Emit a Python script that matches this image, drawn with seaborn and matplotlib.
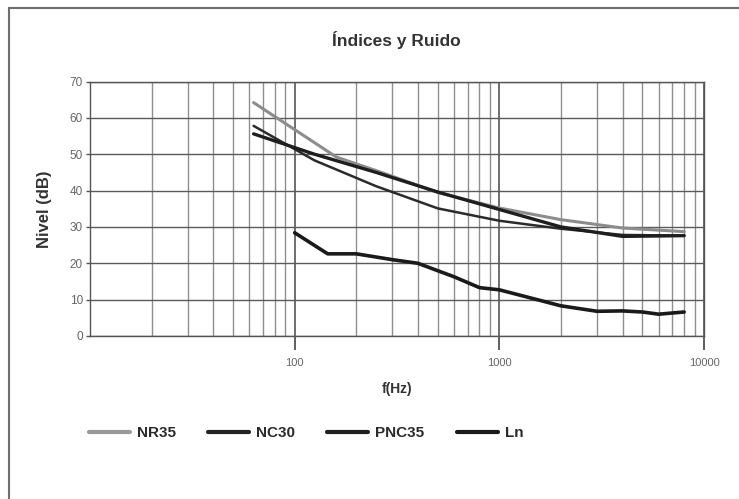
import matplotlib
matplotlib.use("Agg")
import matplotlib.pyplot as plt
import seaborn as sns
import pandas as pd
from matplotlib.lines import Line2D
from matplotlib.patches import Rectangle
from matplotlib.ticker import FixedLocator, NullFormatter

# ---- data ----
oct_freqs = [63, 125, 250, 500, 1000, 2000, 4000, 8000]
nr_freqs = [63, 160, 250, 500, 1000, 2000, 4000, 8000]
nr35 = [64.2, 49.2, 45.5, 39.5, 35.2, 32.0, 29.7, 28.7]
nc30 = [57.8, 48.3, 41.2, 35.1, 31.7, 29.5, 27.8, 27.6]
pnc35 = [55.6, 50.0, 45.0, 39.6, 34.8, 30.0, 27.4, 27.6]
ln_freqs = [100, 145, 200, 300, 400, 600, 800, 1000, 2000, 3000, 4000, 5000, 6000, 8000]
ln_vals = [28.4, 22.6, 22.6, 21.0, 20.0, 16.3, 13.3, 12.7, 8.3, 6.8, 6.9, 6.6, 6.0, 6.6]

series_names = ["NR35", "NC30", "PNC35", "Ln"]
colors = ["#8c8c8c", "#2b2b2b", "#1e1e1e", "#1a1a1a"]
widths = [2.2, 1.8, 2.4, 2.6]
x_tick_vals = [100, 1000, 10000]
x_tick_labels = ["100", "1000", "10000"]
y_tick_vals = [0, 10, 20, 30, 40, 50, 60, 70]

df = pd.concat([
    pd.DataFrame({"f": nr_freqs, "v": nr35, "s": "NR35"}),
    pd.DataFrame({"f": oct_freqs, "v": nc30, "s": "NC30"}),
    pd.DataFrame({"f": oct_freqs, "v": pnc35, "s": "PNC35"}),
    pd.DataFrame({"f": ln_freqs, "v": ln_vals, "s": "Ln"}),
])

sns.set_style("white")
plt.rcParams["font.family"] = ["Liberation Sans", "DejaVu Sans"]

fig = plt.figure(figsize=(7.39, 4.99), dpi=100)
ax = fig.add_axes([90 / 739, 1 - 336 / 499, (704 - 90) / 739, (336 - 81.5) / 499])

ax.set_xscale("log")
ax.set_xlim(10, 10000)
ax.set_ylim(0, 70)

# grid
minor = [m * 10 ** e for e in (1, 2, 3) for m in range(2, 10)]
for xv in minor:
    ax.axvline(xv, color="#8f8f8f", lw=1.0, zorder=0)
for xv in x_tick_vals:
    ax.axvline(xv, color="#555555", lw=1.2, zorder=0)
for yv in y_tick_vals:
    ax.axhline(yv, color="#5a5a5a", lw=1.0, zorder=0)

for name, c, w in zip(series_names, colors, widths):
    sub = df[df["s"] == name]
    sns.lineplot(data=sub, x="f", y="v", ax=ax, color=c, lw=w, legend=False,
                 estimator=None, sort=False, zorder=3)

ax.xaxis.set_major_locator(FixedLocator(x_tick_vals))
ax.set_xticklabels(x_tick_labels)
ax.xaxis.set_minor_locator(FixedLocator(minor))
ax.xaxis.set_minor_formatter(NullFormatter())
ax.tick_params(axis="x", which="major", length=10, width=1.2, color="#444444",
               labelsize=8, labelcolor="#666666", pad=6, direction="out", bottom=True)
ax.tick_params(axis="x", which="minor", length=0)
ax.set_yticks(y_tick_vals)
ax.tick_params(axis="y", length=3, width=1, color="#555555", labelsize=8.5,
               labelcolor="#666666", pad=2, left=True)

for sp in ax.spines.values():
    sp.set_color("#555555")
    sp.set_linewidth(1.0)

ax.set_xlabel("f(Hz)", fontsize=10, fontweight="bold", color="#333333", labelpad=10)
ax.set_ylabel("Nivel (dB)", fontsize=12, fontweight="bold", color="#333333", labelpad=13)

fig.text(396 / 739, 1 - 40 / 499, "Índices y Ruido", ha="center", va="center",
         fontsize=12.5, fontweight="bold", color="#333333")

handles = [Line2D([], [], color=c, lw=3) for c in ["#999999", "#222222", "#1e1e1e", "#1a1a1a"]]
leg = fig.legend(handles, series_names, loc="center", ncol=4, frameon=False,
                 bbox_to_anchor=(306 / 739, 1 - 433 / 499), handlelength=2.7,
                 columnspacing=2.1, handletextpad=0.45,
                 prop={"weight": "bold", "size": 11})
for t in leg.get_texts():
    t.set_color("#2a2a2a")

# outer border
fig.patches.append(Rectangle((9 / 739, -0.1), 1.2, 1 - 8 / 499 + 0.1, transform=fig.transFigure,
                             fill=False, edgecolor="#6e6e6e", lw=1.5, clip_on=False))

fig.savefig("out.png", dpi=100)
